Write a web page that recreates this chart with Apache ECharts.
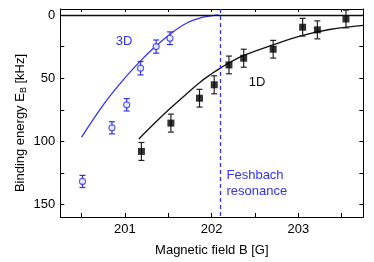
<!DOCTYPE html>
<html><head><meta charset="utf-8">
<script src="https://cdn.jsdelivr.net/npm/echarts@6/dist/echarts.min.js"></script>
<style>html,body{margin:0;padding:0;background:#fff}#c{width:374px;height:262px}</style>
</head><body><div id="c"></div>
<script>
// 3D data (open blue circles)
const b3d = [200.51, 200.85, 201.02, 201.18, 201.36, 201.52];
const e3d = [131.6, 89.2, 71.0, 42.1, 25.0, 18.4];
const err3d = [4.8, 4.8, 4.9, 5.3, 5.2, 5.0];
// 1D data (filled black squares)
const b1d = [201.19, 201.53, 201.86, 202.03, 202.2, 202.37, 202.71, 203.05, 203.22, 203.55];
const e1d = [107.9, 85.5, 65.8, 55.2, 39.5, 34.2, 27.1, 9.7, 11.8, 3.2];
const err1d = [7.1, 7.1, 7.0, 7.1, 7.0, 7.1, 7.0, 7.0, 7.1, 7.0];
// theory curves
const curve3dB = [200.5, 200.75, 200.98, 201.18, 201.35, 201.52, 201.71, 201.9, 202.03, 202.08];
const curve3dE = [96.6, 71.0, 51.3, 36.3, 25.0, 15.2, 6.6, 1.8, 0.3, 0];
const curve1dB = [201.16, 201.35, 201.52, 201.7, 201.86, 202.0, 202.1, 202.2, 202.37, 202.71, 203.05, 203.36, 203.75];
const curve1dE = [98, 85, 74, 63, 53.5, 46.5, 42, 38, 32, 23.6, 16.2, 11.5, 8.2];
// axis ticks
const xTicks = [200.5, 201, 201.5, 202, 202.5, 203, 203.5];
const xLabels = [201, 202, 203];
const yTicks = [0, 25, 50, 75, 100, 125, 150];
const yLabels = [0, 50, 100, 150];
const feshbachB = 202.1;

const BLUE = '#3232f2';
const FONT = 'Liberation Sans, Arial, sans-serif';

const chart = echarts.init(document.getElementById('c'), null, {renderer: 'canvas'});

function errSeries(bs, es, errs, color) {
  return {
    type: 'custom',
    data: bs.map((b, i) => [b, es[i], errs[i]]),
    z: 3,
    renderItem: function (params, api) {
      const x = api.value(0), y = api.value(1), e = api.value(2);
      const p1 = api.coord([x, y - e]);
      const p2 = api.coord([x, y + e]);
      const hw = 3;
      const st = {stroke: color, lineWidth: 1.2};
      return {
        type: 'group',
        children: [
          {type: 'line', shape: {x1: p1[0], y1: p1[1], x2: p2[0], y2: p2[1]}, style: st},
          {type: 'line', shape: {x1: p1[0] - hw, y1: p1[1], x2: p1[0] + hw, y2: p1[1]}, style: st},
          {type: 'line', shape: {x1: p2[0] - hw, y1: p2[1], x2: p2[0] + hw, y2: p2[1]}, style: st}
        ]
      };
    }
  };
}

const xMin = 200.254, xMax = 203.75;
const yMin = -4.7, yMax = 159.7;

const option = {
  animation: false,
  grid: {left: 60.3, right: 10.7, top: 9, bottom: 44.7},
  xAxis: [{
    type: 'value', min: xMin, max: xMax, position: 'bottom',
    axisLine: {show: true, onZero: false, lineStyle: {color: '#000', width: 1}},
    axisTick: {show: true, inside: true, length: 4, customValues: xTicks, lineStyle: {color: '#000'}},
    axisLabel: {customValues: xLabels, color: '#000', fontSize: 13, fontFamily: FONT, margin: 6},
    splitLine: {show: false},
    name: 'Magnetic field B [G]', nameLocation: 'middle', nameGap: 27,
    nameTextStyle: {color: '#000', fontSize: 13, fontFamily: FONT}
  }, {
    type: 'value', min: xMin, max: xMax, position: 'top',
    axisLine: {show: true, onZero: false, lineStyle: {color: '#000', width: 1}},
    axisTick: {show: true, inside: true, length: 3, customValues: xTicks, lineStyle: {color: '#000'}},
    axisLabel: {show: false}, splitLine: {show: false}
  }],
  yAxis: [{
    type: 'value', min: yMin, max: yMax, inverse: true, position: 'left',
    axisLine: {show: true, onZero: false, lineStyle: {color: '#000', width: 1}},
    axisTick: {show: true, inside: true, length: 4, customValues: yTicks, lineStyle: {color: '#000'}},
    axisLabel: {customValues: yLabels, color: '#000', fontSize: 13, fontFamily: FONT, margin: 5},
    splitLine: {show: false}
  }, {
    type: 'value', min: yMin, max: yMax, inverse: true, position: 'right',
    axisLine: {show: true, onZero: false, lineStyle: {color: '#000', width: 1}},
    axisTick: {show: true, inside: true, length: 4, customValues: yTicks, lineStyle: {color: '#000'}},
    axisLabel: {show: false}, splitLine: {show: false}
  }],
  series: [
    {
      type: 'line', data: curve1dB.map((b, i) => [b, curve1dE[i]]), smooth: 0.4,
      showSymbol: false, lineStyle: {color: '#111', width: 1.3}, z: 2,
      markLine: {
        silent: true, symbol: 'none', label: {show: false},
        lineStyle: {color: '#111', width: 1.3, type: 'solid'},
        data: [{yAxis: 0}]
      }
    },
    {
      type: 'line', data: curve3dB.map((b, i) => [b, curve3dE[i]]), smooth: 0.4,
      showSymbol: false, lineStyle: {color: BLUE, width: 1.3}, z: 2,
      markLine: {
        silent: true, symbol: 'none', label: {show: false},
        lineStyle: {color: BLUE, width: 1.3, type: [4, 3]},
        data: [{xAxis: feshbachB}]
      }
    },
    errSeries(b3d, e3d, err3d, BLUE),
    errSeries(b1d, e1d, err1d, '#222'),
    {
      type: 'scatter', data: b3d.map((b, i) => [b, e3d[i]]), symbol: 'circle', symbolSize: 6,
      itemStyle: {color: '#fff', borderColor: BLUE, borderWidth: 1.2}, z: 4
    },
    {
      type: 'scatter', data: b1d.map((b, i) => [b, e1d[i]]), symbol: 'rect', symbolSize: 7,
      itemStyle: {color: '#000'}, z: 4
    }
  ],
  graphic: [
    {type: 'text', x: 124, y: 41, style: {text: '3D', fill: BLUE, font: '13px ' + FONT, align: 'center', verticalAlign: 'middle'}},
    {type: 'text', x: 257, y: 82, style: {text: '1D', fill: '#111', font: '13px ' + FONT, align: 'center', verticalAlign: 'middle'}},
    {type: 'text', x: 226.5, y: 175, style: {text: 'Feshbach', fill: BLUE, font: '13px ' + FONT, align: 'left', verticalAlign: 'middle'}},
    {type: 'text', x: 226.5, y: 191.5, style: {text: 'resonance', fill: BLUE, font: '13px ' + FONT, align: 'left', verticalAlign: 'middle'}},
    {type: 'text', x: 20, y: 123, rotation: Math.PI / 2,
      style: {
        text: '{a|Binding energy E}{s|B}{a| [kHz]}', align: 'center', verticalAlign: 'middle',
        rich: {
          a: {fontSize: 13, fontFamily: FONT, fill: '#000', color: '#000'},
          s: {fontSize: 9, fontFamily: FONT, fill: '#000', color: '#000', padding: [7, 0, 0, 0]}
        }
      }}
  ]
};
chart.setOption(option);
</script>
</body></html>
